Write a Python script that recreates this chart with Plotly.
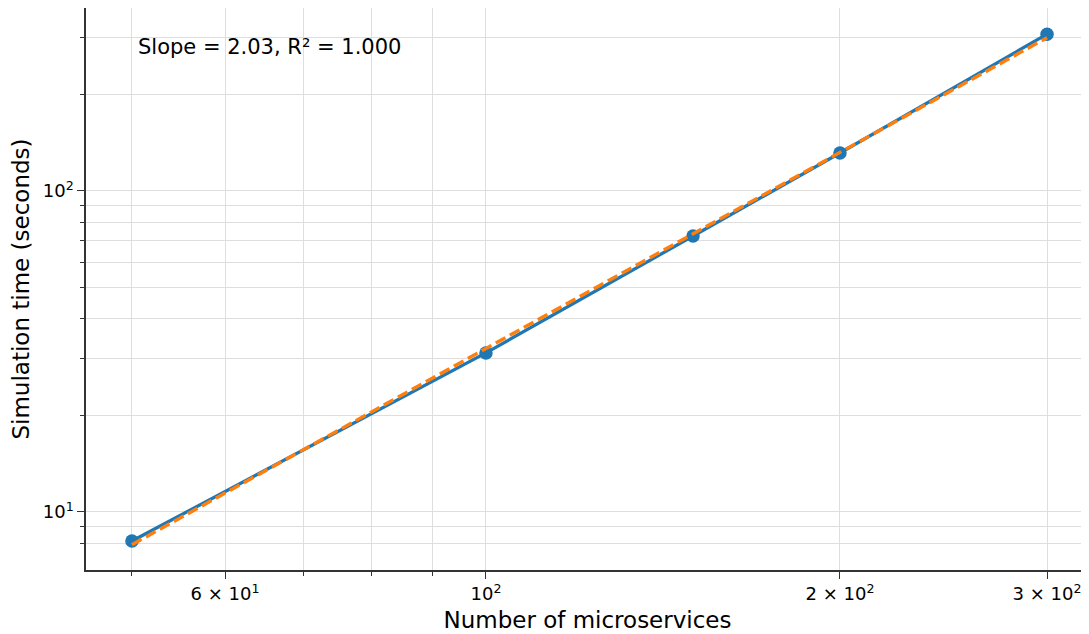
import numpy as np
import plotly.graph_objects as go

# Data
n_services = [50, 100, 150, 200, 300]
sim_time = [8.12, 31.3, 72.4, 131.3, 308.0]

x_label_vals = [60, 100, 200, 300]
x_label_text = ["6 × 10<sup>1</sup>", "10<sup>2</sup>", "2 × 10<sup>2</sup>", "3 × 10<sup>2</sup>"]
x_minor_vals = [50, 60, 70, 80, 90, 200, 300]
y_label_vals = [10, 100]
y_label_text = ["10<sup>1</sup>", "10<sup>2</sup>"]
y_minor_vals = [8, 9, 20, 30, 40, 50, 60, 70, 80, 90, 200, 300]

annotation_text = "Slope = 2.03, R² = 1.000"

# Power-law fit in log-log space
lx = np.log10(n_services)
ly = np.log10(sim_time)
slope, intercept = np.polyfit(lx, ly, 1)
fit_x = [n_services[0], n_services[-1]]
fit_y = [10 ** (intercept + slope * np.log10(v)) for v in fit_x]

BLUE = "#1f77b4"
ORANGE = "#ff7f0e"
FONT = "DejaVu Sans"
GRID = "#dedede"

fig = go.Figure()
fig.add_trace(go.Scatter(
    x=n_services, y=sim_time, mode="lines+markers",
    line=dict(color=BLUE, width=3.3),
    marker=dict(color=BLUE, size=13.5),
    showlegend=False,
))
fig.add_trace(go.Scatter(
    x=fit_x, y=fit_y, mode="lines",
    line=dict(color=ORANGE, width=3.4, dash="11px,5px"),
    showlegend=False,
))

axis_common = dict(
    type="log", automargin=False,
    showline=True, linecolor="#333333", linewidth=1.5, mirror=False,
    ticks="outside", ticklen=7, tickwidth=1.2, tickcolor="#333333",
    showgrid=True, gridcolor=GRID, gridwidth=1,
    zeroline=False,
    tickfont=dict(family=FONT, size=18, color="#000000"),
    title_font=dict(family=FONT, size=23, color="#000000"),
)

fig.update_xaxes(
    **axis_common,
    range=[1.6599, 2.5128],
    tickmode="array", tickvals=x_label_vals, ticktext=x_label_text,
    title_text="Number of microservices", title_standoff=9,
    minor=dict(tickmode="array", tickvals=x_minor_vals, ticks="outside",
               ticklen=4, tickwidth=1, tickcolor="#333333",
               showgrid=True, gridcolor=GRID, gridwidth=1),
)
fig.update_yaxes(
    **axis_common,
    range=[0.8193, 2.570],
    tickmode="array", tickvals=y_label_vals, ticktext=y_label_text,
    title_text="Simulation time (seconds)", title_standoff=10,
    minor=dict(tickmode="array", tickvals=y_minor_vals, ticks="outside",
               ticklen=4, tickwidth=1, tickcolor="#333333",
               showgrid=True, gridcolor=GRID, gridwidth=1),
)

fig.add_annotation(
    text=annotation_text, xref="paper", yref="paper",
    x=0.05, y=0.956, xanchor="left", yanchor="top", showarrow=False,
    font=dict(family=FONT, size=21, color="#000000"),
)

# The page body has an 8px margin, so the figure is sized to end at the window edge
fig.update_layout(
    width=1081, height=626,
    margin=dict(l=78, r=0, t=0, b=64),
    plot_bgcolor="white", paper_bgcolor="white",
    font=dict(family=FONT),
)

fig.write_html("out.html")
